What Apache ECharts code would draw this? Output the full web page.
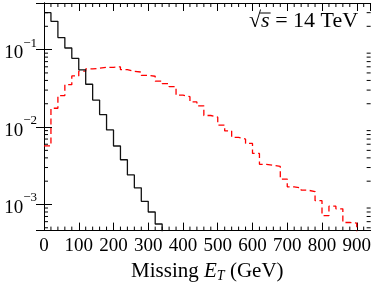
<!DOCTYPE html>
<html><head><meta charset="utf-8">
<script src="https://cdn.jsdelivr.net/npm/echarts@6/dist/echarts.min.js"></script>
<style>html,body{margin:0;padding:0;background:#fff}#c{width:374px;height:288px}</style>
</head><body><div id="c"></div>
<script>
// bin edges (GeV), 20 GeV bins
const binEdges = [0,20,40,60,80,100,120,140,160,180,200,220,240,260,280,300,320,340,360,380,400,420,440,460,480,500,520,540,560,580,600,620,640,660,680,700,720,740,760,780,800,820,840,860,880,900,920,940];
// black solid histogram (bins from 0 GeV)
const blackValues = [0.30,0.232,0.143,0.105,0.0772,0.0549,0.0357,0.0223,0.0145,0.00918,0.00569,0.00378,0.00241,0.00164,0.00110,0.00080,0.00056,0.00035];
// red dashed histogram (bins from 0 GeV)
const redValues = [0.0057,0.0175,0.0255,0.0353,0.0457,0.0527,0.0563,0.0575,0.0591,0.0591,0.0600,0.0551,0.0523,0.0513,0.0466,0.0453,0.0393,0.0363,0.0333,0.0258,0.0247,0.0211,0.0188,0.0141,0.0134,0.0106,0.0089,0.00736,0.0070,0.00614,0.00457,0.0033,0.0032,0.0031,0.00213,0.00169,0.00164,0.00153,0.00147,0.00112,0.00072,0.00095,0.00088,0.000585,0.000575,0.00035,0.00030];
const xTickValues = [0,100,200,300,400,500,600,700,800,900];
const yTickValues = [0.001,0.01,0.1];
const annoSymbol = 's';
const annoRest = ' = 14 TeV';
const X_MIN = 0, X_MAX = 940, Y_MIN = 4.6e-4, Y_MAX = 0.4;
const FONT = 'Liberation Serif';

function stepData(values){
  const d = values.map((v,i)=>[binEdges[i], v]);
  d.push([binEdges[values.length], values[values.length-1]]);
  return d;
}
// minor tick positions
const minorTicks = [];
for (let x = 20; x < X_MAX; x += 20) if (x % 100 !== 0) minorTicks.push([x, Y_MIN, 0]);
for (let e = -4; e <= -1; e++) for (let m = 2; m <= 9; m++) {
  const v = m * Math.pow(10, e);
  if (v > Y_MIN && v < Y_MAX * 0.999) minorTicks.push([X_MIN, v, 1]);
}

// measure annotation pieces for the radical's overbar
const AF = 22;
const mctx = document.createElement('canvas').getContext('2d');
mctx.font = AF + 'px "' + FONT + '"';
const wRad = mctx.measureText('\u221A').width;
mctx.font = 'italic ' + AF + 'px "' + FONT + '"';
const wS = mctx.measureText(annoSymbol).width;
const AX = 249, AY = 10;

const chart = echarts.init(document.getElementById('c'), null, {renderer:'canvas'});
const axisLineStyle = {show:true, lineStyle:{color:'#000', width:1}};
const yLabelFmt = v => {
  const e = Math.round(Math.log10(v));
  return '{b|10}{s|\u2212' + Math.abs(e) + '}';
};
const option = {
  animation:false,
  grid:{left:44, right:2, top:3, bottom:49, containLabel:false},
  xAxis:[{
    type:'value', min:X_MIN, max:X_MAX, interval:100, position:'bottom',
    axisLine:axisLineStyle, axisTick:{show:true, inside:true, length:8, lineStyle:{color:'#000'}},
    splitLine:{show:false},
    axisLabel:{show:true, margin:6, color:'#000', fontFamily:FONT, fontSize:19, showMaxLabel:false, hideOverlap:false,
      formatter: v => xTickValues.includes(v) ? String(v) : ''},
    name:'Missing {i|E}{sub|T} (GeV)', nameLocation:'middle', nameGap:26,
    nameTextStyle:{color:'#000', fontFamily:FONT, fontSize:21, verticalAlign:'top',
      rich:{i:{fontFamily:FONT, fontSize:21, fontStyle:'italic', color:'#000'}, sub:{fontFamily:FONT, fontSize:14, fontStyle:'italic', color:'#000', padding:[10,0,0,0]}}}
  },{
    type:'value', min:X_MIN, max:X_MAX, interval:100, position:'top',
    axisLine:axisLineStyle, axisTick:{show:true, inside:true, length:8, lineStyle:{color:'#000'}},
    axisLabel:{show:false}, splitLine:{show:false}
  }],
  yAxis:[{
    type:'log', min:Y_MIN, max:Y_MAX, logBase:10, position:'left',
    axisLine:axisLineStyle, axisTick:{show:true, inside:true, length:8, lineStyle:{color:'#000'}},
    splitLine:{show:false},
    axisLabel:{show:true, margin:7, color:'#000', fontFamily:FONT, fontSize:19, showMinLabel:false, showMaxLabel:false,
      formatter:yLabelFmt,
      rich:{b:{fontFamily:FONT, fontSize:19, color:'#000', padding:[7,0,0,0], verticalAlign:'bottom'},
            s:{fontFamily:FONT, fontSize:13, color:'#000', verticalAlign:'top'}}}
  },{
    type:'log', min:Y_MIN, max:Y_MAX, logBase:10, position:'right',
    axisLine:axisLineStyle, axisTick:{show:true, inside:true, length:8, lineStyle:{color:'#000'}},
    axisLabel:{show:false}, splitLine:{show:false}
  }],
  series:[
    {type:'line', step:'end', data:stepData(redValues), xAxisIndex:0, yAxisIndex:0, showSymbol:false, symbol:'none',
      lineStyle:{color:'#ff0000', width:1.3, type:[6,3.5]}, z:3},
    {type:'line', step:'end', data:stepData(blackValues), xAxisIndex:0, yAxisIndex:0, showSymbol:false, symbol:'none',
      lineStyle:{color:'#111', width:1.3}, z:4},
    {type:'custom', coordinateSystem:'cartesian2d', xAxisIndex:0, yAxisIndex:0, clip:false, silent:true, z:5,
      data:minorTicks,
      renderItem:(params, api) => {
        const kind = api.value(2);
        const st = {stroke:'#000', lineWidth:1};
        if (kind === 0) {
          const xv = api.value(0);
          const pb = api.coord([xv, Y_MIN]), pt = api.coord([xv, Y_MAX]);
          return {type:'group', children:[
            {type:'line', shape:{x1:pb[0], y1:pb[1], x2:pb[0], y2:pb[1]-4}, style:st},
            {type:'line', shape:{x1:pt[0], y1:pt[1], x2:pt[0], y2:pt[1]+4}, style:st}]};
        } else {
          const yv = api.value(1);
          const pl = api.coord([X_MIN, yv]), pr = api.coord([X_MAX, yv]);
          return {type:'group', children:[
            {type:'line', shape:{x1:pl[0], y1:pl[1], x2:pl[0]+4, y2:pl[1]}, style:st},
            {type:'line', shape:{x1:pr[0], y1:pr[1], x2:pr[0]-4, y2:pr[1]}, style:st}]};
        }
      }}
  ],
  graphic:[{
    type:'text', x:AX, y:AY,
    style:{text:'\u221A{i|' + annoSymbol + '}' + annoRest, fontFamily:FONT, fontSize:AF, fill:'#000',
      rich:{i:{fontFamily:FONT, fontSize:AF, fontStyle:'italic', fill:'#000'}}}
  },{
    type:'line', shape:{x1:AX + wRad - 1, y1:AY + 3, x2:AX + wRad + wS + 1, y2:AY + 3}, style:{stroke:'#000', lineWidth:1}
  }]
};
chart.setOption(option);
</script></body></html>
